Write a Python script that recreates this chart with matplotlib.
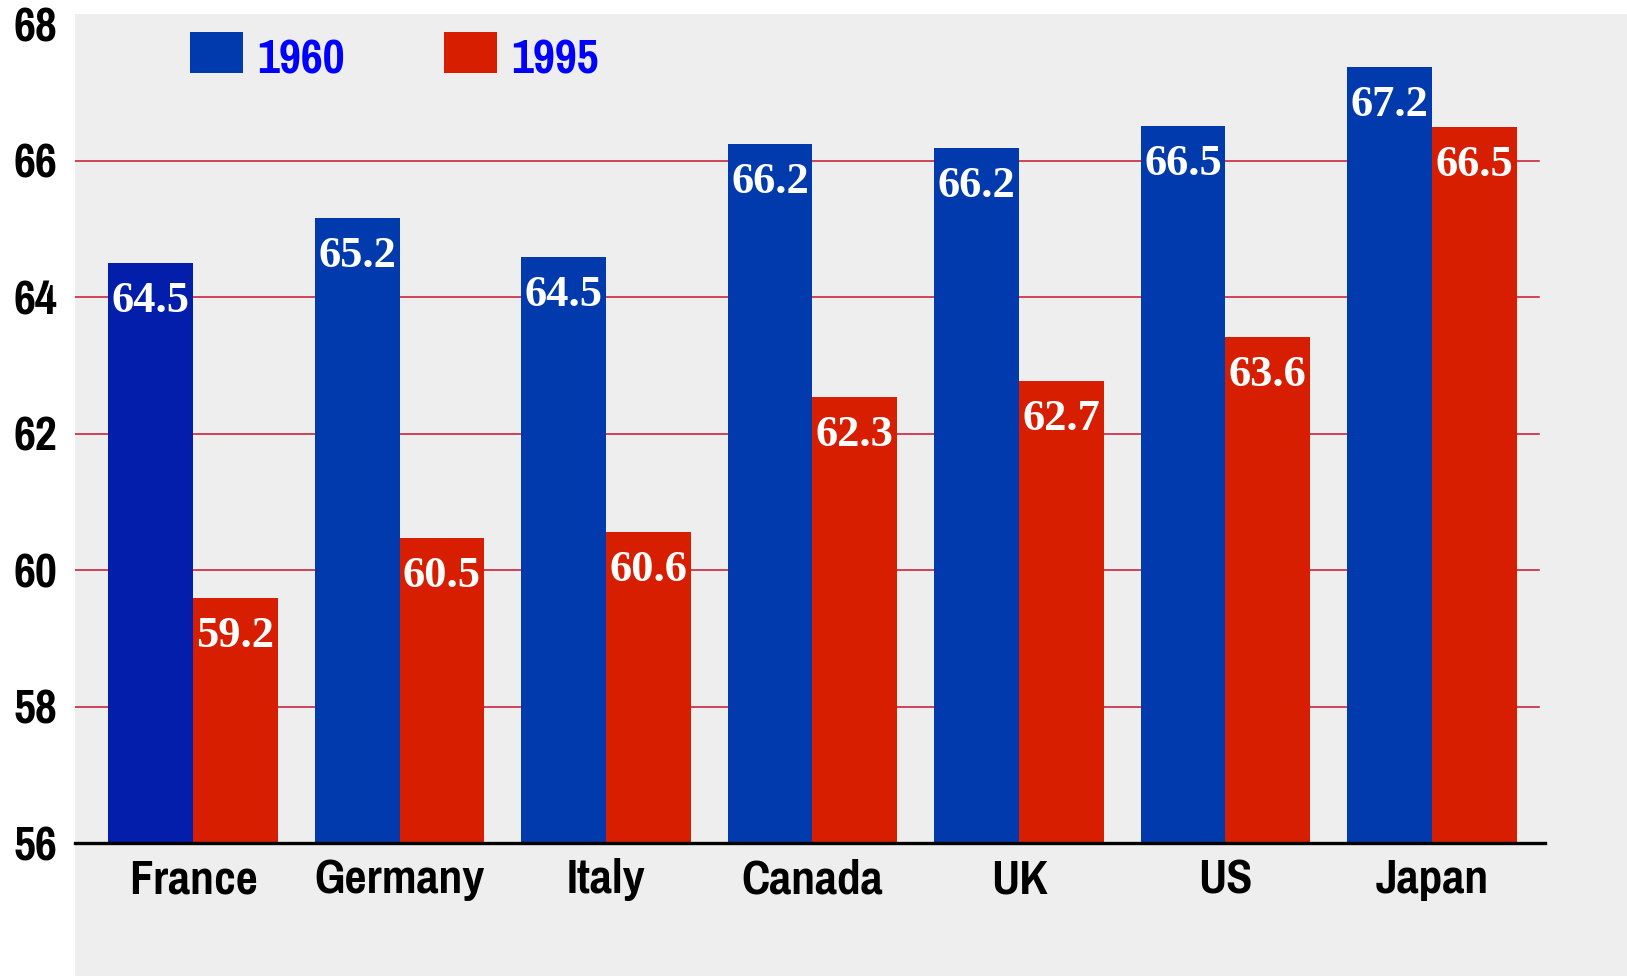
import matplotlib
matplotlib.use("Agg")
import matplotlib.pyplot as plt
from matplotlib.patches import Rectangle
import numpy as np

# Data
countries = ["France", "Germany", "Italy", "Canada", "UK", "US", "Japan"]
years = ["1960", "1995"]
heights_1960 = [64.50, 65.16, 64.58, 66.24, 66.19, 66.51, 67.37]
heights_1995 = [59.59, 60.47, 60.56, 62.54, 62.77, 63.41, 66.49]
labels_1960 = ["64.5", "65.2", "64.5", "66.2", "66.2", "66.5", "67.2"]
labels_1995 = ["59.2", "60.5", "60.6", "62.3", "62.7", "63.6", "66.5"]
y_ticks = [56, 58, 60, 62, 64, 66, 68]

# Styles
blue = "#003AAD"
blue_dark = "#031EAA"
red = "#D81E00"
panel = "#EEEEEE"
grid_red = "#C8142E"
sans = ["Pragati Narrow", "Liberation Sans", "DejaVu Sans"]
serif = ["Liberation Serif", "DejaVu Serif"]
big = 37.5

W, H = 1627, 976
fig = plt.figure(figsize=(W / 100, H / 100), dpi=100)
fig.patch.set_facecolor("white")

# grey panel behind the plot
fig.add_artist(Rectangle((75 / W, 0), 1 - 75 / W, 1 - 14 / H,
                         transform=fig.transFigure, facecolor=panel,
                         edgecolor="none", zorder=0))

ax = fig.add_axes([75 / W, (H - 843) / H, 1470 / W, (843 - 24) / H])
ax.set_facecolor("none")
ax.set_ylim(56, 68)
ax.set_xlim(-0.572, 6.548)

x = np.arange(len(countries))
w = 0.41

# grid lines
for t in y_ticks[1:-1]:
    ax.axhline(t, xmin=0, xmax=0.996, color=grid_red, lw=1.1, zorder=1)

colors_1960 = [blue_dark] + [blue] * (len(countries) - 1)
b1 = ax.bar(x - w / 2, np.array(heights_1960) - 56, w, bottom=56,
            color=colors_1960, zorder=2)
b2 = ax.bar(x + w / 2, np.array(heights_1995) - 56, w, bottom=56,
            color=red, zorder=2)

for bars, labs in ((b1, labels_1960), (b2, labels_1995)):
    for bar, lab in zip(bars, labs):
        ax.annotate(lab, (bar.get_x() + bar.get_width() / 2, bar.get_height() + 56),
                    xytext=(0, -13), textcoords="offset points",
                    ha="center", va="top", color="white", fontsize=32,
                    fontweight="bold", family=serif, zorder=4)

# x axis line
ax.axhline(56, color="black", lw=2.4, zorder=5, clip_on=False)

for s in ax.spines.values():
    s.set_visible(False)

ax.set_yticks(y_ticks)
ax.set_yticklabels([str(t) for t in y_ticks])
ax.set_xticks(x)
ax.set_xticklabels(countries)
ax.tick_params(axis="both", length=0)
ax.tick_params(axis="y", pad=13)
ax.tick_params(axis="x", pad=11)
for lab in ax.get_yticklabels() + ax.get_xticklabels():
    lab.set_fontsize(big)
    lab.set_fontweight("bold")
    lab.set_family(sans)

# legend
leg = [(190, blue, years[0], 257), (444, red, years[1], 511)]
for left, col, txt, tx in leg:
    fig.add_artist(Rectangle((left / W, (H - 73) / H), 53 / W, 41 / H,
                             transform=fig.transFigure, facecolor=col,
                             edgecolor="none", zorder=3))
    fig.text(tx / W, (H - 60) / H, txt, color="#0000FF", fontsize=big,
             fontweight="bold", family=sans, ha="left", va="center")

fig.savefig("out.png", dpi=100)
